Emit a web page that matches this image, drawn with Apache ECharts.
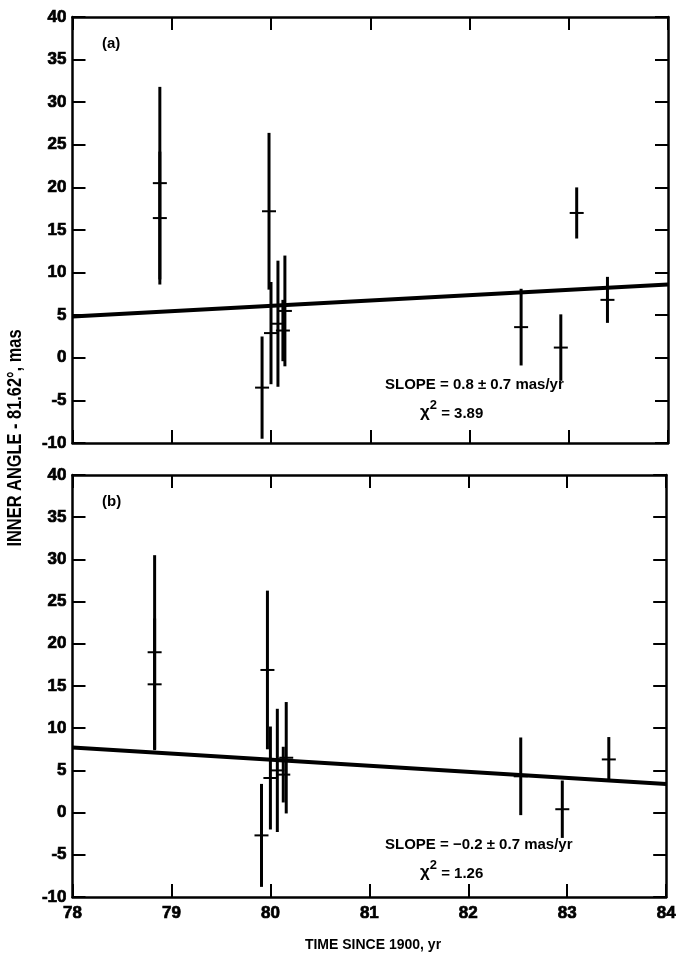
<!DOCTYPE html>
<html lang="en">
<head>
    <meta charset="UTF-8">
    <title>Inner angle vs time</title>
    <script src="https://cdn.jsdelivr.net/npm/echarts@6/dist/echarts.min.js"></script>
    <style>
        body { margin: 0; background: #fff; }
        #chart { width: 679px; height: 959px; }
    </style>
</head>
<body>
<div id="chart"></div>
<script>
// panel (a): all points
const yearsA  = [78.88, 78.88, 79.91, 79.98, 80.00, 80.07, 80.12, 80.14, 82.52, 82.92, 83.08, 83.39];
const valuesA = [20.5, 16.4, -3.5, 17.2, 2.9, 4.0, 3.2, 5.5, 3.6, 1.2, 17.0, 6.8];
const errorsA = [11.3, 7.8, 6.0, 9.2, 6.0, 7.4, 3.6, 6.5, 4.5, 3.9, 3.0, 2.7];

// panel (b): 83.08 point dropped
const yearsB  = [78.83, 78.83, 79.91, 79.97, 80.00, 80.07, 80.13, 80.16, 82.53, 82.95, 83.42];
const valuesB = [19.0, 15.2, -2.7, 16.9, 4.1, 5.0, 4.5, 6.5, 4.3, 0.4, 6.3];
const errorsB = [11.5, 7.8, 6.1, 9.4, 6.1, 7.3, 3.3, 6.6, 4.6, 3.4, 2.65];

// fitted lines
const fitYears = [78, 84];
const fitA = [4.85, 8.6];
const fitB = [7.7, 3.4];

const yTicks = [-10, 40, 5];   // min, max, step
const xTicks = [78, 84, 1];

const FONT = '"Liberation Sans", Arial, Helvetica, sans-serif';

function errorBar(params, api) {
    const x = api.value(0), y = api.value(1), e = api.value(2);
    const top = api.coord([x, y + e]);
    const bot = api.coord([x, y - e]);
    const mid = api.coord([x, y]);
    return {
        type: 'group',
        children: [
            { type: 'line', shape: { x1: top[0], y1: top[1], x2: bot[0], y2: bot[1] },
              style: { stroke: '#000', lineWidth: 3 } },
            { type: 'line', shape: { x1: mid[0] - 7, y1: mid[1], x2: mid[0] + 7, y2: mid[1] },
              style: { stroke: '#000', lineWidth: 2 } }
        ]
    };
}

const tickLabel = {
    color: '#000', fontFamily: FONT, fontWeight: 'bold', fontSize: 17,
    textBorderColor: '#000', textBorderWidth: 0.7
};

function xAxisFor(grid, pos, labels) {
    return {
        gridIndex: grid, type: 'value', position: pos,
        min: xTicks[0], max: xTicks[1], interval: xTicks[2],
        axisLine: { onZero: false, lineStyle: { color: '#000', width: 2.5 } },
        axisTick: { inside: true, length: 13, lineStyle: { color: '#000', width: 2 } },
        axisLabel: Object.assign({ show: labels, margin: 8 }, tickLabel),
        splitLine: { show: false }
    };
}

function yAxisFor(grid, pos, labels) {
    return {
        gridIndex: grid, type: 'value', position: pos,
        min: yTicks[0], max: yTicks[1], interval: yTicks[2],
        axisLine: { onZero: false, lineStyle: { color: '#000', width: 2.5 } },
        axisTick: { inside: true, length: 13, lineStyle: { color: '#000', width: 2 } },
        axisLabel: Object.assign({ show: labels, margin: 6 }, tickLabel),
        splitLine: { show: false }
    };
}

function slopeText(top, slope, chi) {
    return [
        { type: 'text', left: 385, top: top,
          style: { text: slope, font: 'bold 15px ' + FONT, fill: '#000' } },
        { type: 'text', left: 420, top: top + 22,
          style: {
              text: '{g|χ}{s|2}{t| = ' + chi + '}',
              fill: '#000',
              rich: {
                  g: { font: 'bold 17px ' + FONT, verticalAlign: 'bottom', lineHeight: 22 },
                  s: { font: 'bold 13px ' + FONT, verticalAlign: 'top', lineHeight: 22 },
                  t: { font: 'bold 15px ' + FONT, verticalAlign: 'bottom', lineHeight: 22 }
              }
          } }
    ];
}

const chart = echarts.init(document.getElementById('chart'));
chart.setOption({
    animation: false,
    grid: [
        { left: 72.5, right: 11, top: 17, height: 426 },
        { left: 72.5, right: 11, top: 475, height: 422 }
    ],
    xAxis: [xAxisFor(0, 'bottom', false), xAxisFor(0, 'top', false),
            xAxisFor(1, 'bottom', true), xAxisFor(1, 'top', false)],
    yAxis: [yAxisFor(0, 'left', true), yAxisFor(0, 'right', false),
            yAxisFor(1, 'left', true), yAxisFor(1, 'right', false)],
    series: [
        { type: 'line', xAxisIndex: 0, yAxisIndex: 0, symbol: 'none',
          data: fitYears.map((t, i) => [t, fitA[i]]),
          lineStyle: { color: '#000', width: 4 } },
        { type: 'line', xAxisIndex: 2, yAxisIndex: 2, symbol: 'none',
          data: fitYears.map((t, i) => [t, fitB[i]]),
          lineStyle: { color: '#000', width: 4 } },
        { type: 'custom', xAxisIndex: 0, yAxisIndex: 0, renderItem: errorBar,
          encode: { x: 0, y: 1 },
          data: yearsA.map((t, i) => [t, valuesA[i], errorsA[i]]) },
        { type: 'custom', xAxisIndex: 2, yAxisIndex: 2, renderItem: errorBar,
          encode: { x: 0, y: 1 },
          data: yearsB.map((t, i) => [t, valuesB[i], errorsB[i]]) }
    ],
    graphic: [
        { type: 'text', left: 102, top: 36, style: { text: '(a)', font: 'bold 15px ' + FONT, fill: '#000' } },
        { type: 'text', left: 102, top: 494, style: { text: '(b)', font: 'bold 15px ' + FONT, fill: '#000' } },
        ...slopeText(377, 'SLOPE = 0.8 ± 0.7 mas/yr', '3.89'),
        ...slopeText(837, 'SLOPE = −0.2 ± 0.7 mas/yr', '1.26'),
        { type: 'text', x: 373, y: 945,
          style: { text: 'TIME SINCE 1900, yr', font: 'bold 14px ' + FONT, fill: '#000',
                   textAlign: 'center', textVerticalAlign: 'middle' } },
        { type: 'text', x: 15, y: 438, rotation: Math.PI / 2, scaleX: 0.82,
          style: { text: 'INNER ANGLE - 81.62°, mas',
                   font: 'bold 20px ' + FONT,
                   fill: '#000', textAlign: 'center', textVerticalAlign: 'middle' } }
    ]
});
</script>
</body>
</html>
